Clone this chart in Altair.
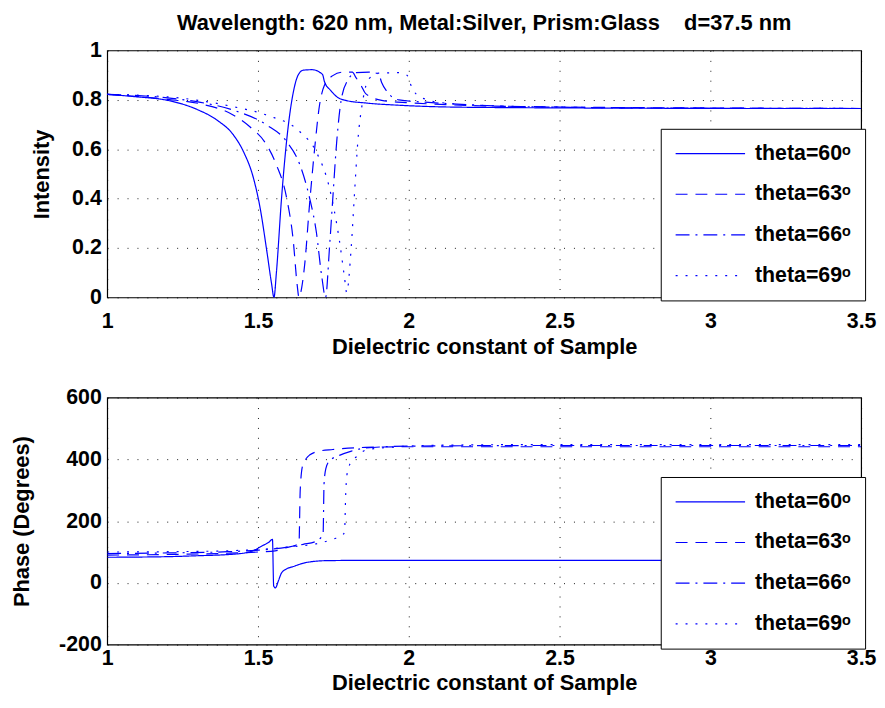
import altair as alt
import pandas as pd

# ---------------- data ----------------
series_labels = ["theta=60ᵒ", "theta=63ᵒ", "theta=66ᵒ", "theta=69ᵒ"]

# Intensity (top panel)
i60_x = [1.0, 1.1, 1.2, 1.3, 1.364, 1.419, 1.452, 1.485, 1.507, 1.529, 1.545, 1.553, 1.561, 1.578, 1.589, 1.6, 1.617, 1.633, 1.65, 1.68, 1.704, 1.715, 1.72, 1.741, 1.763, 1.79, 1.86, 1.97, 2.13, 2.4, 2.8, 3.2, 3.5]
i60_y = [0.822, 0.812, 0.798, 0.76, 0.718, 0.657, 0.59, 0.483, 0.363, 0.19, 0.056, 0.0, 0.10, 0.40, 0.56, 0.69, 0.83, 0.90, 0.92, 0.922, 0.912, 0.90, 0.875, 0.838, 0.811, 0.798, 0.787, 0.778, 0.771, 0.768, 0.766, 0.765, 0.765]

i63_x = [1.0, 1.2, 1.309, 1.419, 1.474, 1.529, 1.561, 1.595, 1.617, 1.63, 1.636, 1.645, 1.655, 1.671, 1.688, 1.704, 1.72, 1.748, 1.78, 1.813, 1.825, 1.842, 1.857, 1.91, 2.02, 2.2, 2.5, 3.0, 3.5]
i63_y = [0.822, 0.802, 0.784, 0.738, 0.69, 0.617, 0.537, 0.403, 0.229, 0.05, 0.0, 0.04, 0.135, 0.377, 0.604, 0.778, 0.858, 0.898, 0.912, 0.912, 0.89, 0.858, 0.825, 0.798, 0.787, 0.777, 0.771, 0.767, 0.765]

i66_x = [1.0, 1.2, 1.309, 1.419, 1.529, 1.595, 1.639, 1.671, 1.693, 1.712, 1.724, 1.737, 1.748, 1.761, 1.776, 1.798, 1.825, 1.868, 1.9, 1.91, 1.93, 1.967, 2.076, 2.3, 2.6, 3.0, 3.5]
i66_y = [0.822, 0.808, 0.79, 0.758, 0.698, 0.631, 0.537, 0.403, 0.269, 0.08, 0.0, 0.2, 0.4, 0.63, 0.8, 0.88, 0.91, 0.912, 0.905, 0.87, 0.83, 0.80, 0.789, 0.775, 0.769, 0.766, 0.765]

i69_x = [1.0, 1.2, 1.419, 1.529, 1.639, 1.693, 1.737, 1.77, 1.787, 1.794, 1.809, 1.82, 1.831, 1.848, 1.868, 1.9, 1.967, 1.994, 2.01, 2.04, 2.12, 2.3, 2.6, 3.0, 3.5]
i69_y = [0.822, 0.812, 0.772, 0.738, 0.671, 0.59, 0.443, 0.23, 0.08, 0.02, 0.2, 0.42, 0.63, 0.80, 0.885, 0.908, 0.91, 0.90, 0.85, 0.81, 0.787, 0.775, 0.769, 0.766, 0.765]

# Phase (bottom panel)
p60_x = [1.0, 1.2, 1.3, 1.419, 1.474, 1.518, 1.535, 1.548, 1.552, 1.558, 1.567, 1.578, 1.594, 1.617, 1.66, 1.726, 1.85, 2.0, 2.5, 3.0, 3.5]
p60_y = [83, 85, 88, 93, 101, 122, 131, 141, -10, -16, 5, 32, 45, 53, 66, 72, 73, 73, 73, 73, 73]

p63_x = [1.0, 1.2, 1.4, 1.5, 1.557, 1.594, 1.627, 1.636, 1.640, 1.648, 1.66, 1.671, 1.704, 1.748, 1.857, 2.0, 2.5, 3.0, 3.5]
p63_y = [90, 92, 96, 100, 104, 114, 123, 128, 300, 380, 403, 414, 427, 432, 439, 441, 441, 441, 441]

p66_x = [1.0, 1.2, 1.4, 1.5, 1.6, 1.65, 1.693, 1.71, 1.716, 1.719, 1.725, 1.737, 1.77, 1.81, 1.857, 2.0, 2.5, 3.0, 3.5]
p66_y = [95, 97, 101, 106, 116, 125, 135, 149, 160, 320, 370, 395, 413, 427, 437, 443, 445, 445, 445]

p69_x = [1.0, 1.2, 1.4, 1.5, 1.6, 1.7, 1.75, 1.78, 1.787, 1.791, 1.795, 1.805, 1.83, 1.857, 1.95, 2.1, 2.5, 3.0, 3.5]
p69_y = [100, 101, 104, 108, 116, 128, 142, 155, 165, 290, 350, 385, 411, 430, 440, 446, 448, 448, 448]

x_ticks = [1, 1.5, 2, 2.5, 3, 3.5]
i_ticks = [0, 0.2, 0.4, 0.6, 0.8, 1]
p_ticks = [-200, 0, 200, 400, 600]

title_text = "Wavelength: 620 nm, Metal:Silver, Prism:Glass\u00a0\u00a0\u00a0\u00a0d=37.5 nm"
x_title = "Dielectric constant of Sample"


def long_df(pairs):
    rows = []
    for lab, (xs, ys) in zip(series_labels, pairs):
        for k, (a, b) in enumerate(zip(xs, ys)):
            rows.append({"series": lab, "eps": a, "val": b, "i": k})
    return pd.DataFrame(rows)


df_i = long_df([(i60_x, i60_y), (i63_x, i63_y), (i66_x, i66_y), (i69_x, i69_y)])
df_p = long_df([(p60_x, p60_y), (p63_x, p63_y), (p66_x, p66_y), (p69_x, p69_y)])

FONT = "Liberation Sans"
BLUE = "#0000ff"
dashes = [[1, 0], [12, 8], [14, 6, 2, 6], [2, 8]]
hyphen_labels = "datum.value < 0 ? '-' + abs(datum.value) : '' + datum.value"


def panel(df, ydom, yvals, ytitle, y_title_pad, x_lab_pad, x_title_pad,
          legend_y, title=None):
    props = dict(width=760, height=249)
    if title is not None:
        props["title"] = title
    return alt.Chart(df).mark_line(
        color=BLUE, strokeWidth=1.2, interpolate="monotone", clip=True
    ).encode(
        x=alt.X("eps:Q",
                scale=alt.Scale(domain=[1, 3.5], nice=False, zero=False),
                axis=alt.Axis(values=x_ticks, format="~g", title=x_title,
                              labelPadding=x_lab_pad, titlePadding=x_title_pad)),
        y=alt.Y("val:Q",
                scale=alt.Scale(domain=ydom, nice=False, zero=False),
                axis=alt.Axis(values=yvals, labelExpr=hyphen_labels, title=ytitle,
                              labelPadding=6, titlePadding=y_title_pad)),
        strokeDash=alt.StrokeDash(
            "series:N",
            scale=alt.Scale(domain=series_labels, range=dashes),
            legend=alt.Legend(
                title=None, orient="none", legendX=558, legendY=legend_y,
                direction="vertical", symbolType="M-1,0H6", symbolSize=400,
                symbolStrokeColor=BLUE, symbolFillColor="transparent",
                symbolStrokeWidth=1.2,
                labelFont=FONT, labelFontSize=21.5, labelFontWeight="bold",
                labelColor="black", strokeColor="black", fillColor="white",
                padding=14, rowPadding=19, labelOffset=59, cornerRadius=0,
            ),
        ),
        order=alt.Order("i:Q"),
    ).properties(**props)


top = panel(
    df_i, [0, 1], i_ticks, "Intensity", 18, 13, 5, 79,
    title=alt.TitleParams(text=title_text, font=FONT, fontSize=22,
                          fontWeight="bold", color="black", anchor="middle",
                          frame="group", offset=5),
)
bottom = panel(df_p, [-200, 600], p_ticks, "Phase (Degrees)", 25, 3, 4, 80)

chart = alt.vconcat(top, bottom, spacing=27).resolve_scale(
    x="independent", y="independent", strokeDash="independent"
).resolve_legend(strokeDash="independent").properties(
    padding={"left": 2, "top": 0, "right": 0, "bottom": 0}
).configure_axis(
    labelFont=FONT, labelFontSize=21.5, labelFontWeight="bold", labelColor="black",
    titleFont=FONT, titleFontSize=22, titleFontWeight="bold", titleColor="black",
    grid=True, gridColor="black", gridDash=[1, 9], gridWidth=1, gridOpacity=0.9,
    domain=False, ticks=False, tickSize=0, labelFlush=False, labelOverlap=False,
    labelBound=False,
).configure_view(stroke="black", strokeWidth=1.2)

chart.save("out.html", embed_options={"renderer": "svg", "actions": False})
